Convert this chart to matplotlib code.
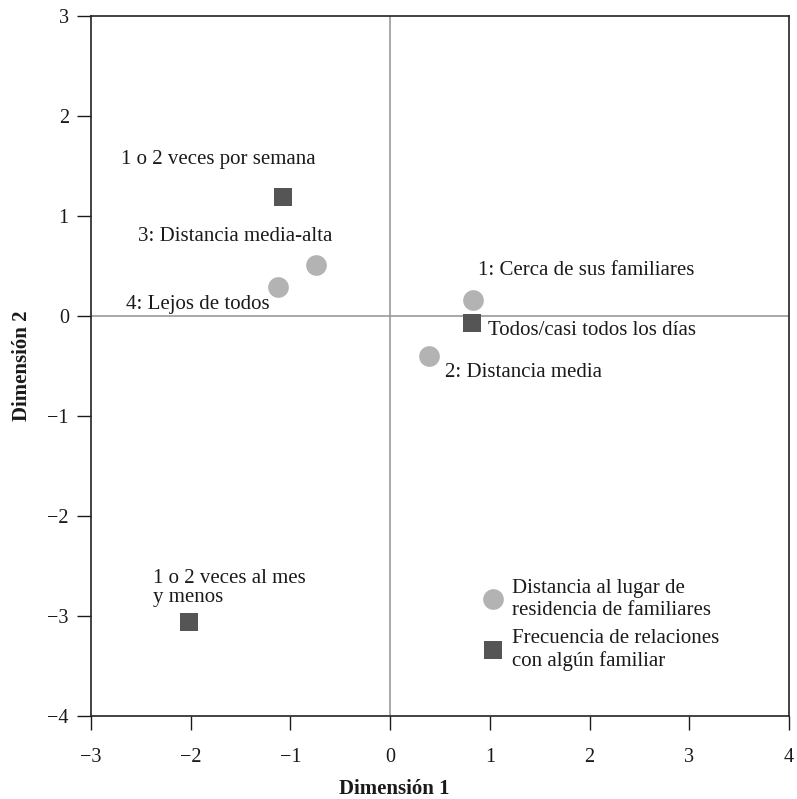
import matplotlib.pyplot as plt
from matplotlib.lines import Line2D

plt.rcParams['font.family'] = ['Liberation Serif', 'DejaVu Serif']

# Distancia al lugar de residencia de familiares (circles)
dist_labels = ["1: Cerca de sus familiares", "2: Distancia media",
               "3: Distancia media-alta", "4: Lejos de todos"]
dist_x = [0.83, 0.39, -0.74, -1.12]
dist_y = [0.16, -0.40, 0.51, 0.29]

# Frecuencia de relaciones con algún familiar (squares)
freq_labels = ["Todos/casi todos los días", "1 o 2 veces por semana",
               "1 o 2 veces al mes\ny menos"]
freq_x = [0.82, -1.07, -2.02]
freq_y = [-0.07, 1.19, -3.06]

legend_labels = ["Distancia al lugar de\nresidencia de familiares",
                 "Frecuencia de relaciones\ncon algún familiar"]

circle_color = '#b3b3b3'
square_color = '#555555'
text_color = '#1a1a1a'
FS = 15

fig = plt.figure(figsize=(7.97, 7.99), dpi=100)
ax = fig.add_axes([0.1142, 0.1039, 0.8758, 0.8761])

ax.axhline(0, color='#999999', lw=1.2, zorder=1)
ax.axvline(0, color='#999999', lw=1.2, zorder=1)

ax.scatter(dist_x, dist_y, s=222, marker='o', color=circle_color, lw=0, zorder=3)
ax.scatter(freq_x, freq_y, s=181, marker='s', color=square_color, lw=0, zorder=3)

# label offsets (data units) relative to each point
dist_off = [(0.05, 0.29), (0.16, -0.17), (-1.79, 0.28), (-1.53, -0.18)]
freq_off = [(0.16, -0.08), (-1.63, 0.37), (-0.36, 0.34)]
for lab, x, y, (dx, dy) in zip(dist_labels, dist_x, dist_y, dist_off):
    ax.text(x + dx, y + dy, lab, fontsize=FS, va='center', ha='left', color=text_color)
for lab, x, y, (dx, dy) in zip(freq_labels, freq_x, freq_y, freq_off):
    ax.text(x + dx, y + dy, lab, fontsize=FS, va='center', ha='left',
            color=text_color, linespacing=0.96)

handles = [Line2D([], [], ls='', marker='o', ms=14.9, color=circle_color, mew=0),
           Line2D([], [], ls='', marker='s', ms=13.5, color=square_color, mew=0)]
leg = ax.legend(handles, legend_labels, loc='upper left', bbox_to_anchor=(0.93, -2.63),
                bbox_transform=ax.transData, frameon=False, fontsize=FS,
                handletextpad=0.4, labelspacing=0.45, handlelength=1.0,
                borderpad=0, borderaxespad=0)
for t in leg.get_texts():
    t.set_color(text_color)

ax.set_xlim(-3, 4)
ax.set_ylim(-4, 3)
ax.set_xticks(range(-3, 5))
ax.set_yticks(range(-4, 4))
ax.tick_params(direction='out', length=10, width=1, labelsize=14.5, colors=text_color)
ax.tick_params(axis='x', pad=13)
ax.tick_params(axis='y', pad=6)
for sp in ax.spines.values():
    sp.set_linewidth(1.2)
    sp.set_color('#222222')

ax.set_xlabel('Dimensión 1', fontsize=15, fontweight='bold', color=text_color,
              va='baseline')
ax.set_ylabel('Dimensión 2', fontsize=15, fontweight='bold', color=text_color)
ax.xaxis.set_label_coords(0.434, -0.111)
ax.yaxis.set_label_coords(-0.085, 0.5)

fig.savefig('out.png', dpi=100)
